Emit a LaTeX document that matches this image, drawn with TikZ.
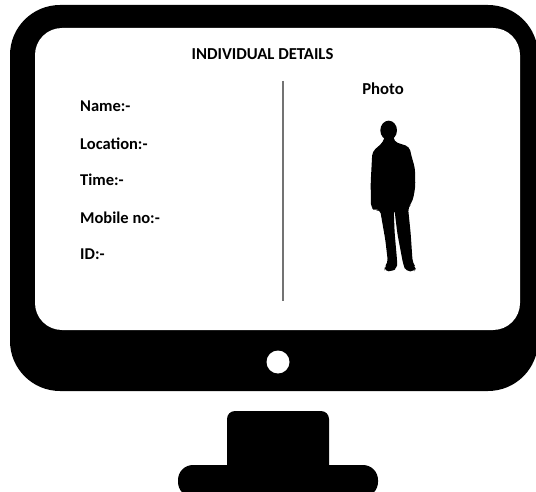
\documentclass[tikz,border=0pt]{standalone}
\usepackage{fontspec}
\setmainfont{Carlito}
\tikzset{
  lbl/.style={inner sep=0pt,anchor=base west,font=\fontsize{16.5}{18}\selectfont\bfseries,text=black},
  ttl/.style={inner sep=0pt,anchor=base,font=\fontsize{16.7}{18}\selectfont\bfseries,text=black},
}
\begin{document}
\begin{tikzpicture}[x=1pt,y=-1pt]
\useasboundingbox (0,0) rectangle (536,492);
\clip (0,0) rectangle (536,492);
% stand
\fill[black,rounded corners=15] (178,497) -- (178,465) -- (378,465) -- (378,497) -- cycle;
\fill[black,rounded corners=8] (227,480) -- (227,411) -- (329,411) -- (329,480) -- cycle;
% monitor
\fill[black,rounded corners=50] (10,5) rectangle (538,391);
\fill[white,rounded corners=27] (35,28) rectangle (520,330);
\fill[white] (278,362) circle (11.5);
% divider
\coordinate (dtop) at (283,81);
\coordinate (dbot) at (283,301);
\draw[black!55,line width=1.2] (dtop) -- (dbot);
% texts
\node[ttl] (title) at (262.5,59.5) {INDIVIDUAL DETAILS};
\node[ttl] (photo) at (383,94.5) {Photo};
\node[lbl] (name) at (80,111.8) {Name:-};
\node[lbl] (loc) at (80,149.2) {Location:-};
\node[lbl] (time) at (80,185.8) {Time:-};
\node[lbl] (mob) at (80,223.2) {Mobile no:-};
\node[lbl] (id) at (80,259.8) {ID:-};
% person
\begin{scope}[shift={(340,100)},scale=0.3333]
\fill[black] (146,91) ellipse [x radius=25,y radius=29];
\fill[black,rounded corners=4]
 (135,105) -- (160,105) -- (162,125) -- (208,140) -- (215,170) -- (225,205) -- (226,260) -- (219,300) -- (208,318)
 -- (204,322) -- (212,400) -- (218,488) -- (228,503) -- (224,514) -- (198,514) -- (190,495)
 -- (172,400) -- (163,326) -- (161,326) -- (164,400) -- (172,490) -- (170,504) -- (158,514) -- (134,514) -- (134,500) -- (144,488)
 -- (136,420) -- (120,328) -- (106,332) -- (93,324) -- (92,250) -- (97,155) -- (130,126) -- cycle;
\end{scope}
\end{tikzpicture}
\end{document}
